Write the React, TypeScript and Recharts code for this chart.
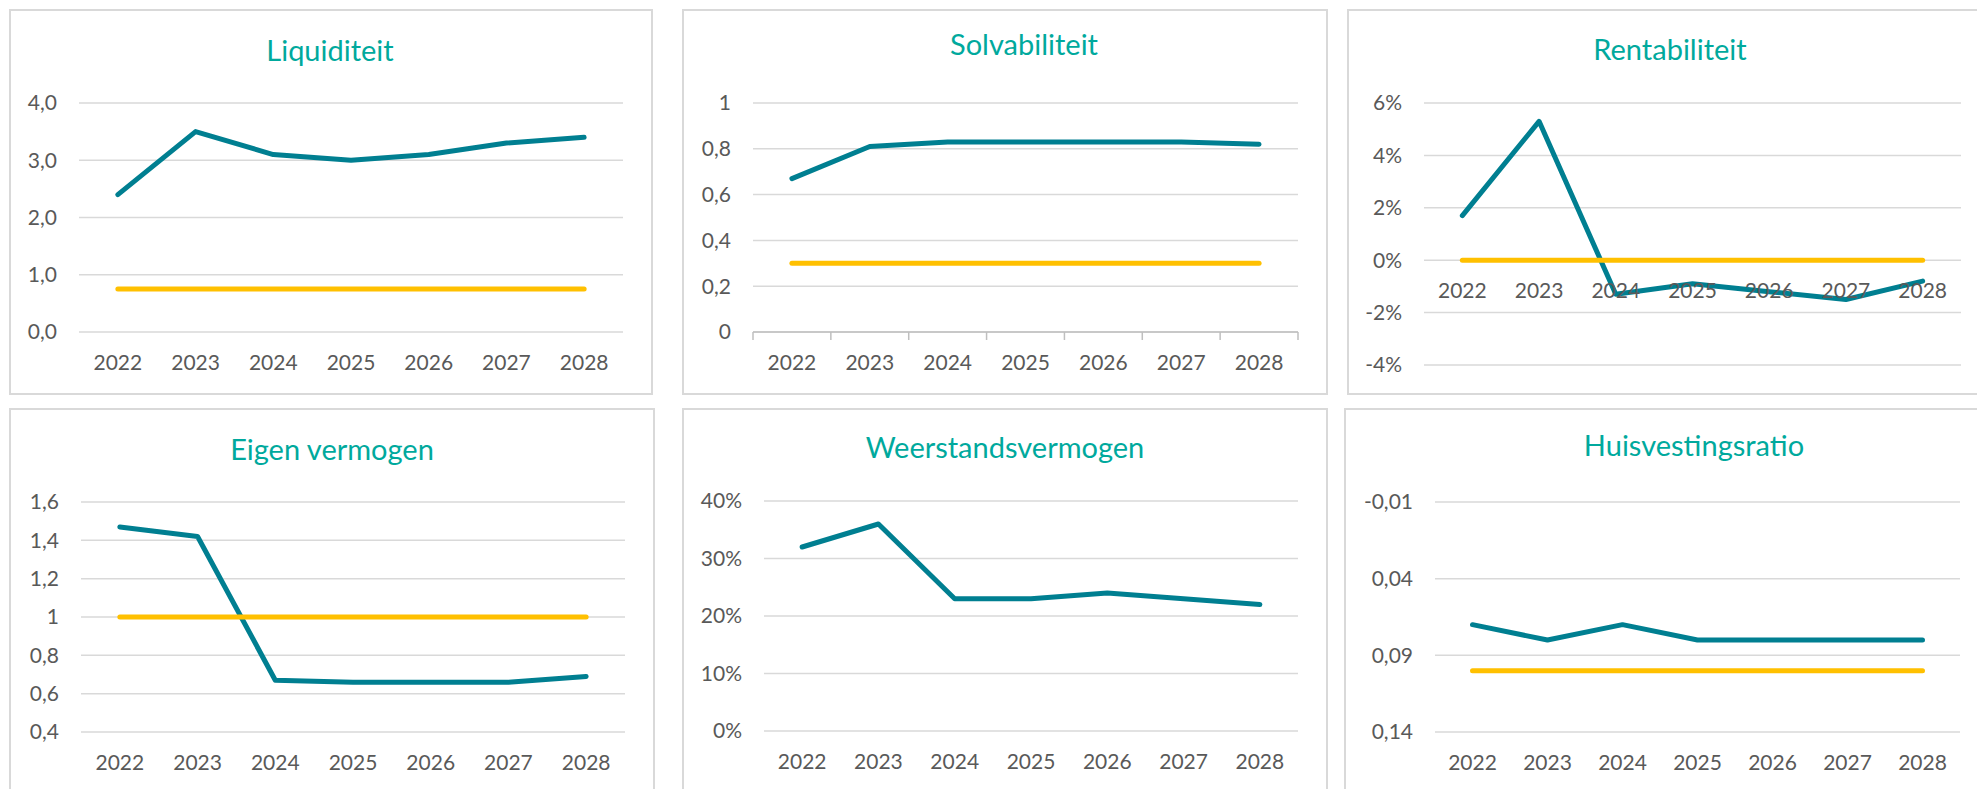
import React from "react";
import { LineChart, Line, XAxis, YAxis, CartesianGrid, LabelList } from "recharts";

// --- data ---
const years = ["2022", "2023", "2024", "2025", "2026", "2027", "2028"];

const liquiditeit = [2.4, 3.5, 3.1, 3.0, 3.1, 3.3, 3.4];
const liquiditeitNorm = [0.75, 0.75, 0.75, 0.75, 0.75, 0.75, 0.75];
const liquiditeitTicks = [0, 1, 2, 3, 4];

const solvabiliteit = [0.67, 0.81, 0.83, 0.83, 0.83, 0.83, 0.82];
const solvabiliteitNorm = [0.3, 0.3, 0.3, 0.3, 0.3, 0.3, 0.3];
const solvabiliteitTicks = [0, 0.2, 0.4, 0.6, 0.8, 1];

const rentabiliteit = [0.017, 0.053, -0.013, -0.009, -0.012, -0.015, -0.008];
const rentabiliteitNorm = [0, 0, 0, 0, 0, 0, 0];
const rentabiliteitTicks = [-0.04, -0.02, 0, 0.02, 0.04, 0.06];

const eigenVermogen = [1.47, 1.42, 0.67, 0.66, 0.66, 0.66, 0.69];
const eigenVermogenNorm = [1, 1, 1, 1, 1, 1, 1];
const eigenVermogenTicks = [0.4, 0.6, 0.8, 1, 1.2, 1.4, 1.6];

const weerstandsvermogen = [0.32, 0.36, 0.23, 0.23, 0.24, 0.23, 0.22];
const weerstandsvermogenTicks = [0, 0.1, 0.2, 0.3, 0.4];

const huisvestingsratio = [0.07, 0.08, 0.07, 0.08, 0.08, 0.08, 0.08];
const huisvestingsratioNorm = [0.1, 0.1, 0.1, 0.1, 0.1, 0.1, 0.1];
const huisvestingsratioTicks = [-0.01, 0.04, 0.09, 0.14];

// --- styling ---
const TEAL = "#007F91";
const YELLOW = "#FFC000";
const TITLE = "#00A99D";
const LABEL = "#595959";
const GRID = "#D9D9D9";
const FONT = "Lato, 'Open Sans', sans-serif";
const PAGE_W = 1977;
const PAGE_H = 789;
const Y_W = 60;
const TICK_FS = 21;

const oneDecimal = (v: number) => v.toFixed(1).replace(".", ",");
const plain = (v: number) => String(v).replace(".", ",");
const twoDecimals = (v: number) => v.toFixed(2).replace(".", ",");
const pct = (v: number) => `${Math.round(v * 100)}%`;

type PanelCfg = {
  title: string;
  values: number[];
  norm?: number[];
  ticks: number[];
  format: (v: number) => string;
  reversed?: boolean;
  axisTicks?: boolean;
  labelsAtZero?: boolean;
  box: [number, number, number, number];
  plot: [number, number, number, number];
  titleAt: [number, number];
};

const panels: PanelCfg[] = [
  {
    title: "Liquiditeit", values: liquiditeit, norm: liquiditeitNorm, ticks: liquiditeitTicks, format: oneDecimal,
    box: [9, 9, 644, 386], plot: [79, 103, 623, 332], titleAt: [330, 61],
  },
  {
    title: "Solvabiliteit", values: solvabiliteit, norm: solvabiliteitNorm, ticks: solvabiliteitTicks, format: plain,
    axisTicks: true,
    box: [682, 9, 646, 386], plot: [753, 103, 1298, 332], titleAt: [1024, 55],
  },
  {
    title: "Rentabiliteit", values: rentabiliteit, norm: rentabiliteitNorm, ticks: rentabiliteitTicks, format: pct,
    labelsAtZero: true,
    box: [1347, 9, 700, 386], plot: [1424, 103, 1961, 365], titleAt: [1670, 60],
  },
  {
    title: "Eigen vermogen", values: eigenVermogen, norm: eigenVermogenNorm, ticks: eigenVermogenTicks, format: plain,
    box: [9, 408, 646, 500], plot: [81, 502, 625, 732], titleAt: [332, 460],
  },
  {
    title: "Weerstandsvermogen", values: weerstandsvermogen, ticks: weerstandsvermogenTicks, format: pct,
    box: [682, 408, 646, 500], plot: [764, 501, 1298, 731], titleAt: [1005, 458],
  },
  {
    title: "Huisvestingsratio", values: huisvestingsratio, norm: huisvestingsratioNorm, ticks: huisvestingsratioTicks,
    format: twoDecimals, reversed: true,
    box: [1344, 408, 700, 500], plot: [1435, 502, 1960, 732], titleAt: [1694, 456],
  },
];

function YearTick(props: any) {
  const { x, y, payload, index, edges, band } = props;
  const count = props.visibleTicksCount ?? years.length;
  return (
    <g>
      {edges && <line x1={x - band / 2} x2={x - band / 2} y1={y} y2={y + 8} stroke="#BFBFBF" strokeWidth={1.5} />}
      {edges && index === count - 1 && (
        <line x1={x + band / 2} x2={x + band / 2} y1={y} y2={y + 8} stroke="#BFBFBF" strokeWidth={1.5} />
      )}
      <text x={x} y={y + 38} textAnchor="middle" fill={LABEL} fontSize={TICK_FS} fontFamily={FONT}>
        {payload.value}
      </text>
    </g>
  );
}

function ZeroLabel(props: any) {
  const x = props.viewBox?.x ?? props.x;
  const y = props.viewBox?.y ?? props.y;
  return (
    <text x={x} y={y + 38} textAnchor="middle" fill={LABEL} fontSize={TICK_FS} fontFamily={FONT}>
      {props.value}
    </text>
  );
}

function RatioPanel({ cfg }: { cfg: PanelCfg }) {
  const [bx, by, bw, bh] = cfg.box;
  const [px1, py1, px2, py2] = cfg.plot;
  const chartH = Math.min(bh, PAGE_H - by);
  const xAxisH = cfg.labelsAtZero ? 0 : 40;
  // categories sit in the middle of equal bands, like Excel's category axis
  const band = (px2 - px1) / years.length;
  const margin = {
    top: py1 - by,
    left: px1 - bx - Y_W,
    right: bx + bw - px2,
    bottom: by + chartH - py2 - xAxisH,
  };
  const data = years.map((year, i) => ({
    year,
    value: cfg.values[i],
    norm: cfg.norm ? cfg.norm[i] : undefined,
  }));
  const domain: [number, number] = [cfg.ticks[0], cfg.ticks[cfg.ticks.length - 1]];

  return (
    <>
      <div
        style={{
          position: "absolute", left: bx, top: by, width: bw, height: bh,
          border: `2px solid ${GRID}`, boxSizing: "border-box",
        }}
      />
      <div style={{ position: "absolute", left: bx, top: by, width: bw, height: chartH }}>
        <LineChart width={bw} height={chartH} data={data} margin={margin}>
          <CartesianGrid vertical={false} stroke={GRID} strokeWidth={1.5} />
          <XAxis
            dataKey="year"
            hide={cfg.labelsAtZero}
            height={xAxisH}
            interval={0}
            padding={{ left: band / 2, right: band / 2 }}
            tickLine={false}
            tickSize={0}
            tickMargin={0}
            axisLine={cfg.axisTicks ? { stroke: "#BFBFBF", strokeWidth: 1.5 } : false}
            tick={(p: any) => <YearTick {...p} edges={cfg.axisTicks} band={band} />}
          />
          <YAxis
            type="number"
            domain={domain}
            ticks={cfg.ticks}
            reversed={cfg.reversed}
            allowDataOverflow
            interval={0}
            width={Y_W}
            axisLine={false}
            tickLine={false}
            tickSize={0}
            tickMargin={22}
            tickFormatter={cfg.format}
            tick={{ fill: LABEL, fontSize: TICK_FS, fontFamily: FONT }}
          />
          {cfg.labelsAtZero && (
            <Line
              dataKey={() => 0}
              stroke="none"
              dot={false}
              activeDot={false}
              isAnimationActive={false}
            >
              <LabelList dataKey="year" content={ZeroLabel} />
            </Line>
          )}
          <Line
            type="linear"
            dataKey="value"
            stroke={TEAL}
            strokeWidth={5}
            strokeLinecap="round"
            strokeLinejoin="round"
            dot={false}
            activeDot={false}
            isAnimationActive={false}
          />
          {cfg.norm && (
            <Line
              type="linear"
              dataKey="norm"
              stroke={YELLOW}
              strokeWidth={5}
              strokeLinecap="round"
              dot={false}
              activeDot={false}
              isAnimationActive={false}
            />
          )}
        </LineChart>
      </div>
    </>
  );
}

export default function App() {
  return (
    <div
      style={{
        position: "absolute", left: 0, top: 0, width: PAGE_W, height: PAGE_H,
        overflow: "hidden", background: "#fff", fontFamily: FONT,
      }}
    >
      {panels.map((p) => (
        <RatioPanel key={p.title} cfg={p} />
      ))}
      <svg
        width={PAGE_W}
        height={PAGE_H}
        style={{ position: "absolute", left: 0, top: 0, pointerEvents: "none" }}
      >
        {panels.map((p) => (
          <text
            key={p.title}
            x={p.titleAt[0]}
            y={p.titleAt[1]}
            textAnchor="middle"
            fill={TITLE}
            fontSize={29}
            fontFamily={FONT}
          >
            {p.title}
          </text>
        ))}
      </svg>
    </div>
  );
}
